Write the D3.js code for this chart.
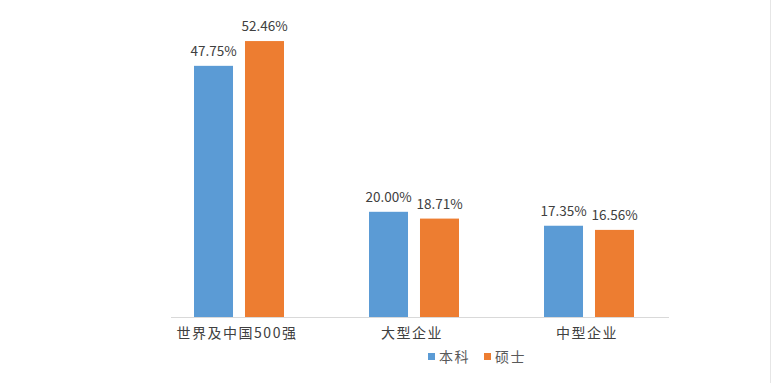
<!DOCTYPE html>
<html><head><meta charset="utf-8">
<script src="https://cdn.jsdelivr.net/npm/d3@7"></script>
<style>
html,body{margin:0;padding:0;background:#fff;}
svg{display:block;}
text{font-family:"Noto Sans CJK SC","Noto Sans",sans-serif;}
</style></head>
<body>
<svg id="chart" width="775" height="383"></svg>
<script>
const categories = ["世界及中国500强", "大型企业", "中型企业"];
const seriesNames = ["本科", "硕士"];
const bachelor = [47.75, 20.00, 17.35];
const master = [52.46, 18.71, 16.56];
const colors = ["#5b9bd5", "#ed7d31"];

const svg = d3.select("#chart");
const W = 775, H = 383;
const baseY = 317;

const x0 = d3.scaleBand().domain(categories).range([151.5, 676.5]).padding(0);
const x1 = d3.scaleBand().domain(seriesNames).range([42.5, 132.5]).paddingInner(0.235).paddingOuter(0);
const y = d3.scaleLinear().domain([0, 60]).range([baseY, baseY - 60 * 5.26]);

const data = categories.map((c, i) => ({cat: c, vals: [bachelor[i], master[i]]}));

// right border line
svg.append("line").attr("x1", 770.5).attr("x2", 770.5).attr("y1", 0).attr("y2", H)
  .attr("stroke", "#e6e6e6").attr("stroke-width", 1);

const g = svg.selectAll("g.grp").data(data).enter().append("g")
  .attr("class", "grp").attr("transform", d => `translate(${x0(d.cat)},0)`);

g.selectAll("rect").data(d => d.vals.map((v, j) => ({s: seriesNames[j], v, j})))
  .enter().append("rect")
  .attr("x", d => x1(d.s)).attr("width", x1.bandwidth())
  .attr("y", d => y(d.v)).attr("height", d => y(0) - y(d.v))
  .attr("fill", d => colors[d.j]);

g.selectAll("text.val").data(d => d.vals.map((v, j) => ({s: seriesNames[j], v, j})))
  .enter().append("text").attr("class", "val")
  .attr("x", d => x1(d.s) + x1.bandwidth() / 2)
  .attr("y", d => y(d.v) - 10)
  .attr("text-anchor", "middle")
  .attr("font-family", "'Liberation Sans', Arial, sans-serif")
  .attr("font-size", 13.5).attr("fill", "#404040")
  .text(d => d.v.toFixed(2) + "%");

// axis
const axis = d3.axisBottom(x0).tickSize(0).tickPadding(8);
const ax = svg.append("g").attr("transform", `translate(0,${baseY})`).call(axis);
ax.select(".domain").remove();
ax.append("line").attr("x1", 171).attr("x2", 669).attr("y1", 0.5).attr("y2", 0.5)
  .attr("stroke", "#d9d9d9").attr("stroke-width", 1.2);
ax.selectAll(".tick text")
  .attr("font-family", "'Noto Sans CJK SC', sans-serif")
  .attr("font-size", 14).attr("fill", "#404040")
  .attr("letter-spacing", "1.5px")
  .attr("dy", "0.9em")
  .attr("dx", "-2px");

// legend
const legend = svg.append("g");
const legX = [428, 484];
seriesNames.forEach((s, i) => {
  legend.append("rect").attr("x", legX[i]).attr("y", 353).attr("width", 7).attr("height", 7).attr("fill", colors[i]);
  legend.append("text").attr("x", legX[i] + 11).attr("y", 362)
    .attr("font-size", 14).attr("fill", "#595959").attr("letter-spacing", "1.5px").text(s);
});
</script>
</body></html>
